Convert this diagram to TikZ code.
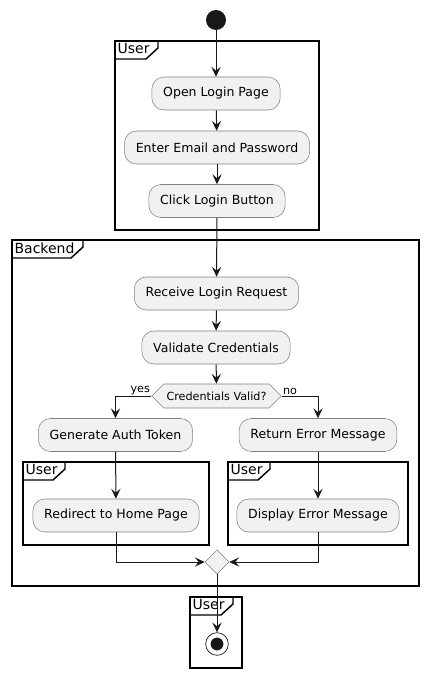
\documentclass[tikz,border=0pt]{standalone}
\usepackage{fontspec}
\setmainfont{DejaVu Sans}
\usetikzlibrary{arrows.meta,shapes.geometric,shapes.symbols}
\definecolor{ink}{HTML}{181818}
\definecolor{boxfill}{HTML}{F1F1F1}

\tikzset{
  action/.style={draw=ink!55, fill=boxfill, rounded corners=9pt, minimum height=24.75pt,
    inner xsep=8.5pt, font=\fontsize{9.4}{11}\selectfont},
  decision/.style={signal, signal to=west and east, draw=ink!55, fill=boxfill,
    minimum height=18pt, inner xsep=2pt, font=\fontsize{8.4}{10}\selectfont},
  merge/.style={diamond, draw=ink!55, fill=boxfill, minimum size=18pt, inner sep=0pt},
  startdot/.style={circle, fill=ink, minimum size=15pt, inner sep=0pt},
  stopring/.style={circle, draw=ink, line width=0.5pt, fill=white, minimum size=17pt, inner sep=0pt},
  flow/.style={draw=ink, line width=0.75pt, -{Stealth[length=7.5pt,width=7pt,inset=3pt]}},
  partition/.style={draw=black, line width=1.1pt},
  tag/.style={font=\fontsize{10.5}{12}\selectfont, anchor=north west, inner sep=1pt},
  branch/.style={font=\fontsize{8.4}{10}\selectfont, inner sep=1pt},
}

% frame with a name tab: x1, y1, x2, y2, tab edge, node name, label
\newcommand{\partframe}[7]{%
  \draw[partition] (#1,#2) rectangle (#3,#4);
  \draw[partition] (#1,#2+18) -- (#5-12,#2+18) -- (#5,#2+7) -- (#5,#2);
  \node[tag] (#6) at (#1+1,#2+1) {#7};
}

\begin{document}
\begin{tikzpicture}[x=0.75pt, y=-0.75pt]
  \useasboundingbox (0,0) rectangle (429,677);

  % Partitions
  \partframe{115}{41}{319}{230}{158}{userA}{User}
  \partframe{12}{240}{419}{586}{83}{backend}{Backend}
  \partframe{23}{462}{209}{545}{65}{userB}{User}
  \partframe{228}{462}{408}{545}{270}{userC}{User}
  \partframe{190}{597}{242}{668}{233}{userD}{User}

  % Start
  \node[startdot] (start) at (216,20) {};

  % User steps
  \node[action] (open)  at (216,93.5)  {Open Login Page};
  \node[action] (enter) at (217,147.5) {Enter Email and Password};
  \node[action] (click) at (217,201)   {Click Login Button};

  % Backend steps
  \node[action] (receive)  at (216.5,293.5) {Receive Login Request};
  \node[action] (validate) at (216,347.5)   {Validate Credentials};
  \node[decision] (valid)  at (216.5,396)   {Credentials Valid?};

  % Branches
  \node[action] (token)    at (115.5,435) {Generate Auth Token};
  \node[action] (error)    at (318,435)   {Return Error Message};
  \node[action] (redirect) at (116,515.5) {Redirect to Home Page};
  \node[action] (display)  at (318,515.5) {Display Error Message};
  \node[merge] (join) at (217,562) {};

  % Stop
  \node[stopring] (stop) at (217,644) {};
  \fill[ink] (stop) circle (4.8pt);

  % Flow
  \draw[flow] (start) -- (open);
  \draw[flow] (open) -- (enter);
  \draw[flow] (enter) -- (click);
  \draw[flow] (click) -- (receive);
  \draw[flow] (receive) -- (validate);
  \draw[flow] (validate) -- (valid);
  \draw[flow] (valid.west) -| (token.north);
  \draw[flow] (valid.east) -| (error.north);
  \node[branch, anchor=south east] (yes) at (valid.west) {yes};
  \node[branch, anchor=south west] (no) at (valid.east) {no};
  \draw[flow] (token) -- (redirect);
  \draw[flow] (error) -- (display);
  \draw[flow] (redirect.south) |- (join.west);
  \draw[flow] (display.south) |- (join.east);
  \draw[flow] (join.south) -- (stop.north);
\end{tikzpicture}
\end{document}
